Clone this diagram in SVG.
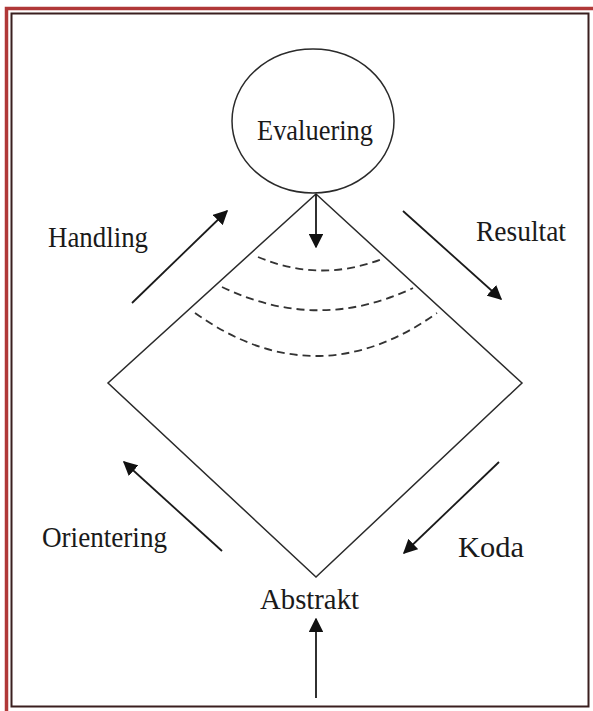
<svg xmlns="http://www.w3.org/2000/svg" width="593" height="711" viewBox="0 0 593 711">
<style>
.t{font-family:"Liberation Serif","Times New Roman",serif;font-size:30px;fill:#1a1a1a}
.ln{stroke:#2a2a2a;stroke-width:1.5;fill:none}
.ar{stroke:#1a1a1a;stroke-width:1.8;fill:none}
.da{stroke:#333;stroke-width:1.8;fill:none;stroke-dasharray:8 5}
</style>
<defs>
<marker id="ah" viewBox="0 0 10 10" refX="9" refY="5" markerWidth="8" markerHeight="8" orient="auto" markerUnits="strokeWidth">
<path d="M0,0 L10,5 L0,10 z" fill="#111"/>
</marker>
</defs>
<rect x="0" y="0" width="593" height="711" fill="#fff"/>
<g id="frame">
<rect x="6.5" y="8.5" width="600" height="710" fill="none" stroke="#b03838" stroke-width="3.5"/>
<rect x="11.5" y="13.5" width="577" height="693" fill="none" stroke="#3a1f1f" stroke-width="2"/>
</g>
<g id="diamond">
<polygon points="316,194 522,383 316,577 108,383" class="ln"/>
</g>
<g id="evaluering">
<ellipse cx="313" cy="121" rx="81" ry="72" class="ln" fill="#fff"/>
<text class="t" x="257" y="140" textLength="116" lengthAdjust="spacingAndGlyphs">Evaluering</text>
</g>
<g id="handling"><text class="t" x="48" y="247" textLength="100" lengthAdjust="spacingAndGlyphs">Handling</text></g>
<g id="resultat"><text class="t" x="476" y="241" textLength="90" lengthAdjust="spacingAndGlyphs">Resultat</text></g>
<g id="orientering"><text class="t" x="42" y="547" textLength="125" lengthAdjust="spacingAndGlyphs">Orientering</text></g>
<g id="koda"><text class="t" x="458" y="557" textLength="66" lengthAdjust="spacingAndGlyphs">Koda</text></g>
<g id="abstrakt"><text class="t" x="260" y="609" textLength="99" lengthAdjust="spacingAndGlyphs">Abstrakt</text></g>
<g id="arcs">
<path class="da" d="M258,257 Q320,283 382,259"/>
<path class="da" d="M222,287 Q318,333 413,288"/>
<path class="da" d="M195,313 Q316,399 437,313"/>
</g>
<g id="connectors">
<line class="ar" x1="132" y1="303" x2="227" y2="211" marker-end="url(#ah)"/>
<line class="ar" x1="403" y1="211" x2="501" y2="299" marker-end="url(#ah)"/>
<line class="ar" x1="222" y1="551" x2="124" y2="462" marker-end="url(#ah)"/>
<line class="ar" x1="499" y1="462" x2="404" y2="553" marker-end="url(#ah)"/>
<line class="ar" x1="316" y1="698" x2="316" y2="619" marker-end="url(#ah)"/>
<line class="ar" x1="316" y1="194" x2="316" y2="247" marker-end="url(#ah)"/>
</g>
</svg>
